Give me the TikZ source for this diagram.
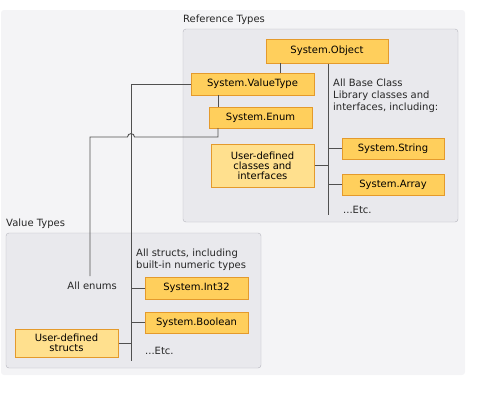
\documentclass[tikz,border=0pt]{standalone}
\usepackage{fontspec}
\setmainfont{DejaVu Sans}
\usetikzlibrary{shadows}

\definecolor{boxfill}{HTML}{FFCF5C}
\definecolor{userfill}{HTML}{FFE08E}
\definecolor{boxline}{HTML}{E49A2C}
\definecolor{panel}{HTML}{F4F4F6}
\definecolor{group}{HTML}{E9E9ED}
\definecolor{groupline}{HTML}{B6B6BE}
\definecolor{wire}{HTML}{505050}

\begin{document}
\begin{tikzpicture}[x=1pt,y=-1pt,font=\fontsize{10}{12}\selectfont,
		type node/.style={draw=boxline,fill=boxfill,line width=1pt,inner sep=0pt,
			minimum width=103pt,minimum height=21pt,align=center,
			drop shadow={shadow xshift=1.2pt,shadow yshift=-1.2pt,opacity=0.25,fill=black}},
		user node/.style={type node,fill=userfill},
		note/.style={inner sep=0pt,align=left,text=black!85},
		wire/.style={draw=wire,line width=0.9pt}]
	
	\useasboundingbox (0,0) rectangle (481,402);
	\fill[panel,rounded corners=3pt] (1,10) rectangle (465,375);
	\filldraw[fill=group,draw=groupline,rounded corners=3pt] (183,29) rectangle (458,222);
	\filldraw[fill=group,draw=groupline,rounded corners=3pt] (6,233) rectangle (261,368);
	
	\node[note,anchor=west] (reflabel) at (183,20) {Reference Types};
	\node[note,anchor=west] (vallabel) at (6,224) {Value Types};
	
	% reference types
	\node[type node,minimum width=122pt,minimum height=24pt] (object) at (327,51) {System.Object};
	\node[type node,minimum width=123pt,minimum height=22pt] (valuetype) at (252.5,84) {System.ValueType};
	\node[type node] (enum) at (260.5,117.5) {System.Enum};
	\node[user node,minimum height=43pt] (userclass) at (262.5,165.5) {User-defined\\[-2pt]classes and\\[-2pt]interfaces};
	\node[type node,minimum width=102pt] (string) at (393,148.5) {System.String};
	\node[type node,minimum width=102pt] (array) at (393,184.5) {System.Array};
	\node[note,anchor=north west] (bcl) at (333,79) {All Base Class\\Library classes and\\interfaces, including:};
	\node[note,anchor=west] (refetc) at (343,210) {...Etc.};
	
	% value types
	\node[type node,minimum height=22pt] (int32) at (196.5,288) {System.Int32};
	\node[type node] (boolean) at (196.5,322.5) {System.Boolean};
	\node[user node,minimum height=28pt] (userstruct) at (66.5,343) {User-defined\\[-2pt]structs};
	\node[note,anchor=north west] (structs) at (136,249) {All structs, including\\built-in numeric types};
	\node[note,anchor=east] (enums) at (117,286) {All enums};
	\node[note,anchor=west] (valetc) at (145,351) {...Etc.};
	
	\coordinate (objend) at (328,215);
	\coordinate (valend) at (131,361);
	\coordinate (enumend) at (90,276);
	
	\begin{scope}[wire]
		\draw (object.south -| objend) -- (objend);
		\draw (280,63) -- (280,73);
		\draw (218,95) -- (218,107);
		\draw (string.west) -- (string.west -| objend);
		\draw (array.west) -- (array.west -| objend);
		\draw (userclass.east) -- (userclass.east -| objend);
		
		\draw (valuetype.west) -- (valuetype.west -| valend) -- (valend);
		\draw (218,128) -- (218,137) -- (134.5,137)
			.. controls (134.5,132.5) and (127.5,132.5) .. (127.5,137)
			-- (enumend |- 0,137) -- (enumend);
		\draw (int32.west) -- (int32.west -| valend);
		\draw (boolean.west) -- (boolean.west -| valend);
		\draw (userstruct.east) -- (userstruct.east -| valend);
	\end{scope}
	
\end{tikzpicture}
\end{document}
